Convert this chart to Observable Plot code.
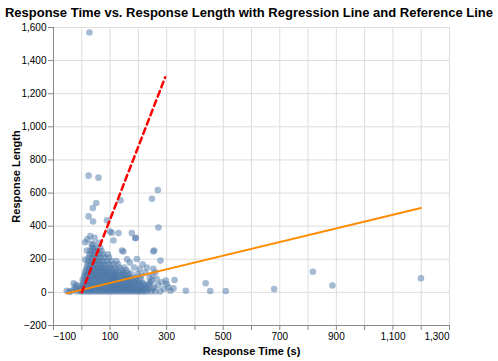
<!DOCTYPE html>
<html><head><meta charset="utf-8">
<script src="https://cdn.jsdelivr.net/npm/d3@7"></script>
<script src="https://cdn.jsdelivr.net/npm/@observablehq/plot@0.6"></script>
<style>
body{margin:0;background:#fff;font-family:"Liberation Sans",Arial,sans-serif;}
#wrap{position:relative;width:498px;height:361px;}
#title{position:absolute;left:0;top:0;width:498px;height:25px;line-height:25px;text-align:center;font-weight:bold;font-size:13px;color:#000;}
#chart svg{display:block;}
</style></head><body>
<div id="wrap">
<div id="chart"></div>
<div id="title">Response Time vs. Response Length with Regression Line and Reference Line</div>
</div>
<script>
// Scattered / outlying responses (seconds, length)
const outlierTime = [27,24,59,269,248,137,51,39,24,40,
  89,271,30,130,106,177,191,147,253,278,
  -29,-53,328,438,680,454,509,368,324,817,
  886,1199,12,18,41,12,100,112,142,189,
  256,195,277,242,253,248,297,283,306,313,
  20,45,60,35,-40,-20,-10,-5,
  210,225,240,205,185,170,160,230,215,260,
  250,265,235,255,270,290,300,215,
  -30,-25,-15,-8,-20,-45];
const outlierLength = [1570,705,693,618,566,556,540,509,459,428,
  436,392,340,358,360,358,330,247,247,192,
  55,10,75,55,20,8,8,10,24,125,
  42,85,303,253,263,198,368,313,253,327,
  253,202,6,61,142,71,71,61,30,10,
  320,330,300,290,5,20,40,10,
  100,120,90,140,150,180,200,150,170,120,
  100,80,40,30,45,20,50,60,
  12,30,6,22,45,4];

// Dense core of responses: one row of response times per response length
const coreLength = [5,15,22,30,45,52,60,75,82,90,105,112,120,135,150,170,190,210,230,250,270,290];
const coreTime = [
  [0,10,20,30,40,50,60,70,80,90,100,110,120,130,140,150,160,170,180,190,200,210,220,230,245,260],
  [5,15,25,35,45,55,65,75,85,95,105,115,125,135,145,155,165,175,185,195,205,215,235],
  [108,127,148,167,188,207,226,251],
  [2,12,22,32,42,52,62,72,82,92,102,112,122,132,142,152,162,172,182,192,212,228],
  [4,14,24,34,44,54,64,74,84,94,104,114,124,134,144,154,164,176,190,205,222],
  [111,131,151,171,196,214,238],
  [6,16,26,36,46,56,66,76,86,96,106,116,126,136,146,158,170,185,200],
  [3,13,23,33,43,53,63,73,83,93,103,113,123,135,148,162,178,196],
  [109,128,153,168,187,207],
  [8,18,28,38,48,58,68,78,88,98,108,118,130,142,156,172,190],
  [10,20,30,40,50,60,70,80,90,100,112,124,138,152,166],
  [118,145,174,198],
  [12,22,32,42,52,62,72,82,92,104,116,130,146,162],
  [15,25,35,45,55,65,75,85,96,108,122,140,158],
  [18,28,38,48,58,68,78,90,102,116,132,150],
  [20,30,40,50,60,70,82,95,110,128],
  [22,32,42,52,62,74,88,104,122],
  [25,35,45,55,66,80,96],
  [28,38,48,60,75,92],
  [30,42,55,70],
  [36,50,65],
  [40]
];

// Regression line and reference line end points
const regressionTime = [-53, 1199];
const regressionLength = [-6, 510];
const referenceTime = [0, 295];
const referenceLength = [0, 1300];

// Axis ticks
const xTicks = [-100,0,100,200,300,400,500,600,700,800,900,1000,1100,1200,1300];
const xLabels = [-100,100,300,500,700,900,1100,1300];
const yTicks = [-200,0,200,400,600,800,1000,1200,1400,1600];

const points = outlierTime.map((t, i) => ({t, l: outlierLength[i]}));
coreLength.forEach((l, j) => coreTime[j].forEach(t => points.push({t, l})));
const regression = regressionTime.map((t, i) => ({t, l: regressionLength[i]}));
const reference = referenceTime.map((t, i) => ({t, l: referenceLength[i]}));

const fmt = d3.format(",");
const chart = Plot.plot({
  width: 498, height: 361,
  marginLeft: 53, marginRight: 49, marginTop: 27, marginBottom: 36,
  x: {domain: [-100, 1300]},
  y: {domain: [-200, 1600]},
  style: {fontFamily: '"Liberation Sans", Arial, sans-serif', fontSize: "10px", color: "#000", background: "#fff"},
  marks: [
    Plot.gridX(xTicks, {stroke: "#ddd", strokeOpacity: 1}),
    Plot.gridY(yTicks, {stroke: "#ddd", strokeOpacity: 1}),
    Plot.dot(points, {x: "t", y: "l", r: 3.3, fill: "#4c78a8", fillOpacity: 0.5, stroke: null}),
    Plot.line(regression, {x: "t", y: "l", stroke: "#ff8c00", strokeWidth: 2}),
    Plot.line(reference, {x: "t", y: "l", stroke: "#ff0000", strokeWidth: 2.5, strokeDasharray: "6,4"}),
    Plot.ruleX([-100], {stroke: "#888"}),
    Plot.ruleY([-200], {stroke: "#888"}),
    Plot.axisY(yTicks, {tickSize: 5, tickPadding: 2, stroke: "#888", fill: "#000", tickFormat: fmt, label: null}),
    Plot.axisX(xTicks, {tickSize: 5, stroke: "#888", tickFormat: () => "", label: null}),
    Plot.axisX(xLabels.slice(0, 1), {tickSize: 0, tickPadding: 7, textAnchor: "start", fill: "#000", tickFormat: fmt, label: null}),
    Plot.axisX(xLabels.slice(1, -1), {tickSize: 0, tickPadding: 7, fill: "#000", tickFormat: fmt, label: null}),
    Plot.axisX(xLabels.slice(-1), {tickSize: 0, tickPadding: 7, textAnchor: "end", fill: "#000", tickFormat: fmt, label: null}),
    Plot.text(["Response Length"], {frameAnchor: "left", textAnchor: "middle", lineAnchor: "middle", rotate: -90, dx: -37, fontWeight: "bold", fontSize: 11, fill: "#000"}),
    Plot.text(["Response Time (s)"], {frameAnchor: "bottom", textAnchor: "middle", lineAnchor: "middle", dy: 26, fontWeight: "bold", fontSize: 11, fill: "#000"})
  ]
});
document.getElementById("chart").appendChild(chart);
</script>
</body></html>
